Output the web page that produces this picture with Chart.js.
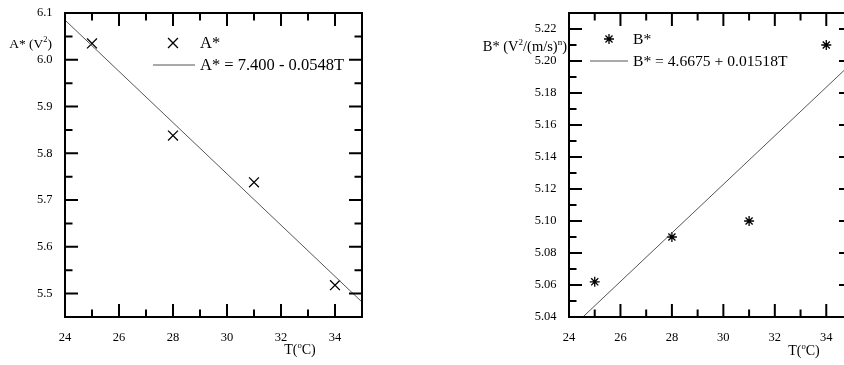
<!DOCTYPE html>
<html>
<head>
<meta charset="utf-8">
<script src="https://cdn.jsdelivr.net/npm/chart.js@4.4.0/dist/chart.umd.min.js"></script>
<style>
  html, body { margin: 0; padding: 0; background: #fff; overflow: hidden; }
  body { width: 844px; height: 365px; position: relative; }
  canvas { position: absolute; top: 0; }
  #chartA { left: 0; }
  #chartB { left: 420px; }
</style>
</head>
<body>
<canvas id="chartA" width="420" height="365"></canvas>
<canvas id="chartB" width="440" height="365"></canvas>
<script>
// measured values
const temps = [25, 28, 31, 34];
const aStar = [6.035, 5.838, 5.738, 5.518];
const bStar = [5.062, 5.090, 5.100, 5.210];

// linear fits: [intercept, slope]
const fitA = [7.400, -0.0548];
const fitB = [4.6675, 0.01518];
const tRange = [24, 35];

// axis ticks
const xTicks = [24, 26, 28, 30, 32, 34];
const yTicksA = [5.5, 5.6, 5.7, 5.8, 5.9, 6.0, 6.1];
const yTicksB = [5.04, 5.06, 5.08, 5.10, 5.12, 5.14, 5.16, 5.18, 5.20, 5.22];

const SERIF = '"Liberation Serif", "Times New Roman", serif';

// minor ticks halfway between majors, plus one past the last major if still inside
function minorsOf(majors, min, max) {
  const out = [];
  const step = majors[1] - majors[0];
  for (let i = 0; i < majors.length - 1; i++) out.push((majors[i] + majors[i + 1]) / 2);
  const first = majors[0] - step / 2, last = majors[majors.length - 1] + step / 2;
  if (first > min + 1e-9) out.unshift(first);
  if (last < max - 1e-9) out.push(last);
  return out;
}

// text with superscript parts: [[text, isSup], ...]
function drawRich(ctx, parts, x, y, size, align) {
  const small = size * 0.62;
  let total = 0;
  parts.forEach(([t, sup]) => {
    ctx.font = (sup ? small : size) + 'px ' + SERIF;
    total += ctx.measureText(t).width;
  });
  let cx = align === 'right' ? x - total : align === 'center' ? x - total / 2 : x;
  ctx.textAlign = 'left';
  ctx.textBaseline = 'alphabetic';
  parts.forEach(([t, sup]) => {
    ctx.font = (sup ? small : size) + 'px ' + SERIF;
    ctx.fillText(t, cx, sup ? y - size * 0.42 : y);
    cx += ctx.measureText(t).width;
  });
}

function drawMarker(ctx, style, x, y, r) {
  ctx.beginPath();
  if (style === 'crossRot' || style === 'star') {
    const d = r * 0.7071;
    ctx.moveTo(x - d, y - d); ctx.lineTo(x + d, y + d);
    ctx.moveTo(x - d, y + d); ctx.lineTo(x + d, y - d);
  }
  if (style === 'star') {
    ctx.moveTo(x - r, y); ctx.lineTo(x + r, y);
    ctx.moveTo(x, y - r); ctx.lineTo(x, y + r);
  }
  ctx.stroke();
}

// boxed frame with inward ticks, axis titles and an in-plot legend
const framePlugin = {
  id: 'frame',
  afterDraw(chart, args, opts) {
    const ctx = chart.ctx;
    const a = chart.chartArea;
    const xs = chart.scales.x, ys = chart.scales.y;
    ctx.save();
    ctx.strokeStyle = '#000';
    ctx.fillStyle = '#000';
    ctx.lineWidth = 2;
    ctx.strokeRect(a.left, a.top, a.right - a.left, a.bottom - a.top);

    const major = 13, minor = 7.5;
    ctx.beginPath();
    const xMaj = xTicks, xMin = minorsOf(xTicks, xs.min, xs.max);
    [[xMaj, major], [xMin, minor]].forEach(([vals, len]) => {
      vals.forEach(v => {
        const px = xs.getPixelForValue(v);
        ctx.moveTo(px, a.bottom); ctx.lineTo(px, a.bottom - len);
        ctx.moveTo(px, a.top); ctx.lineTo(px, a.top + len);
      });
    });
    const yMaj = opts.yTicks, yMin = minorsOf(opts.yTicks, ys.min, ys.max);
    [[yMaj, major], [yMin, minor]].forEach(([vals, len]) => {
      vals.forEach(v => {
        const py = ys.getPixelForValue(v);
        ctx.moveTo(a.left, py); ctx.lineTo(a.left + len, py);
        ctx.moveTo(a.right, py); ctx.lineTo(a.right - len, py);
      });
    });
    ctx.stroke();

    drawRich(ctx, opts.yTitle, opts.yTitlePos[0], opts.yTitlePos[1], opts.yTitleSize, 'right');
    drawRich(ctx, [['T(', false], ['o', true], ['C)', false]], opts.xTitlePos[0], opts.xTitlePos[1], 14, 'center');

    // legend
    const lg = opts.legend;
    ctx.lineWidth = 1.3;
    drawMarker(ctx, lg.marker, lg.markerX, lg.row1, lg.markerR);
    ctx.strokeStyle = '#555';
    ctx.lineWidth = 1;
    ctx.beginPath();
    ctx.moveTo(lg.lineX[0], lg.row2); ctx.lineTo(lg.lineX[1], lg.row2);
    ctx.stroke();
    ctx.font = lg.size + 'px ' + SERIF;
    ctx.textAlign = 'left';
    ctx.textBaseline = 'middle';
    ctx.fillText(lg.labels[0], lg.textX, lg.row1 + 1);
    ctx.fillText(lg.labels[1], lg.textX, lg.row2 + 1);
    ctx.restore();
  }
};

function makeChart(id, cfg) {
  const pts = temps.map((t, i) => ({ x: t, y: cfg.values[i] }));
  const fitLine = tRange.map(t => ({ x: t, y: cfg.fit[0] + cfg.fit[1] * t }));
  return new Chart(document.getElementById(id), {
    type: 'scatter',
    data: {
      datasets: [
        {
          data: fitLine,
          showLine: true,
          borderColor: '#555',
          borderWidth: 1,
          pointRadius: 0
        },
        {
          data: pts,
          pointStyle: cfg.marker,
          pointRadius: cfg.markerR,
          borderColor: '#000',
          backgroundColor: '#000',
          pointBorderWidth: 1.3
        }
      ]
    },
    options: {
      responsive: false,
      animation: false,
      events: [],
      layout: { padding: cfg.padding },
      plugins: {
        legend: { display: false },
        tooltip: { enabled: false },
        frame: cfg.frame
      },
      scales: {
        x: {
          type: 'linear',
          min: tRange[0],
          max: tRange[1],
          grid: { display: false, drawTicks: false },
          border: { display: false },
          afterBuildTicks: s => { s.ticks = xTicks.map(v => ({ value: v })); },
          afterFit: s => { s.height = cfg.xHeight; s.paddingLeft = 0; s.paddingRight = 0; },
          ticks: { color: '#000', padding: 13, font: { family: SERIF, size: 12.5 } }
        },
        y: {
          min: cfg.yRange[0],
          max: cfg.yRange[1],
          grid: { display: false, drawTicks: false },
          border: { display: false },
          afterBuildTicks: s => { s.ticks = cfg.yTicks.map(v => ({ value: v })); },
          afterFit: s => { s.width = cfg.yWidth; s.paddingTop = 0; s.paddingBottom = 0; },
          ticks: {
            color: '#000',
            padding: 12.5,
            font: { family: SERIF, size: 12.5 },
            callback: v => v.toFixed(cfg.decimals)
          }
        }
      }
    },
    plugins: [framePlugin]
  });
}

makeChart('chartA', {
  values: aStar,
  fit: fitA,
  yTicks: yTicksA,
  yRange: [5.45, 6.1],
  decimals: 1,
  marker: 'crossRot',
  markerR: 7,
  padding: { top: 13, right: 58, bottom: 0, left: 0 },
  yWidth: 65,
  xHeight: 48,
  frame: {
    yTicks: yTicksA,
    yTitle: [['A* (V', false], ['2', true], [')', false]],
    yTitleSize: 13.5,
    yTitlePos: [52, 48],
    xTitlePos: [300, 354],
    legend: {
      marker: 'crossRot', markerR: 7, markerX: 173, textX: 200,
      row1: 43, row2: 65, lineX: [153, 195], size: 16.5,
      labels: ['A*', 'A* = 7.400 - 0.0548T']
    }
  }
});

makeChart('chartB', {
  values: bStar,
  fit: fitB,
  yTicks: yTicksB,
  yRange: [5.04, 5.23],
  decimals: 2,
  marker: 'star',
  markerR: 5,
  padding: { top: 13, right: 8, bottom: 0, left: 0 },
  yWidth: 149,
  xHeight: 48,
  frame: {
    yTicks: yTicksB,
    yTitle: [['B* (V', false], ['2', true], ['/(m/s)', false], ['n', true], [')', false]],
    yTitleSize: 14.5,
    yTitlePos: [147, 51],
    xTitlePos: [384, 355],
    legend: {
      marker: 'star', markerR: 5, markerX: 189, textX: 213,
      row1: 39, row2: 61, lineX: [170, 208], size: 15.6,
      labels: ['B*', 'B* = 4.6675 + 0.01518T']
    }
  }
});
</script>
</body>
</html>
